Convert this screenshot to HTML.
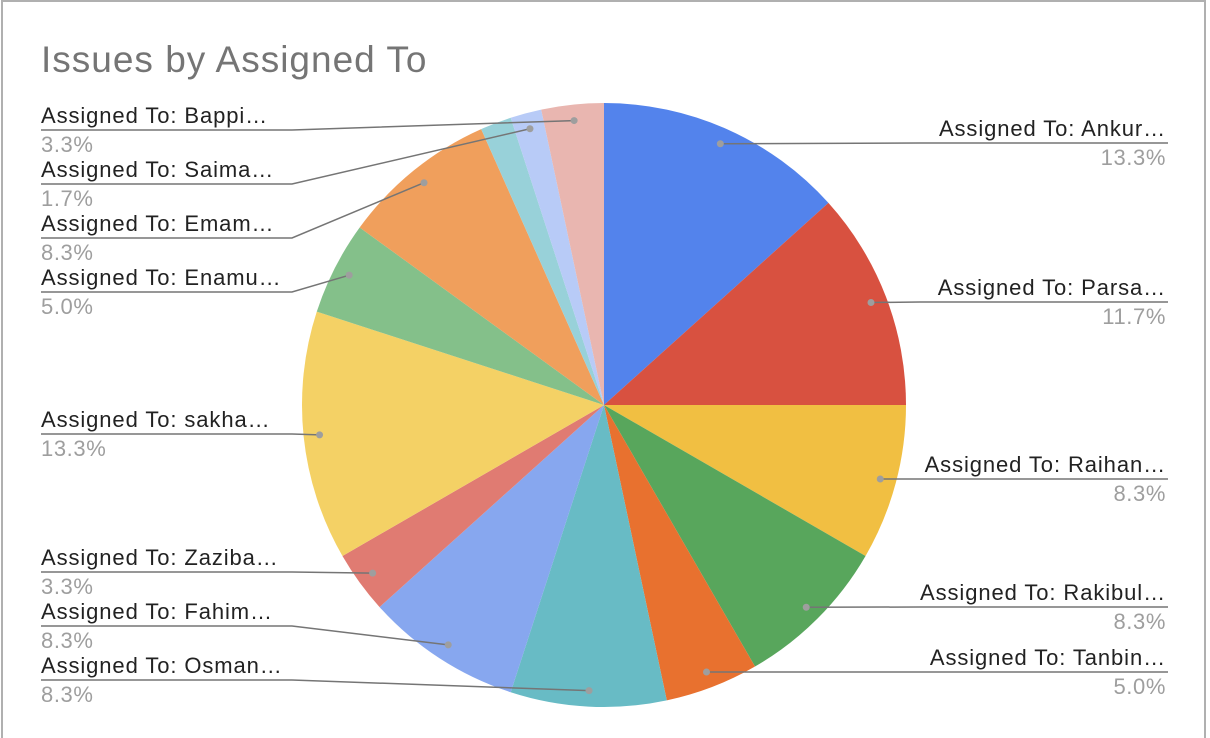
<!DOCTYPE html>
<html><head><meta charset="utf-8"><style>
html,body{margin:0;padding:0;background:#fff;}
svg{display:block;font-family:"Liberation Sans",Arial,sans-serif;}
</style></head><body>
<svg id="chart" width="1210" height="738" viewBox="0 0 1210 738">
<rect x="2" y="1" width="1203" height="745" fill="#fff" stroke="#b0b0b0" stroke-width="2"/>
<text x="41" y="72" font-size="37" letter-spacing="1" fill="#757575">Issues by Assigned To</text>
<g id="slices"></g><g id="labels"></g>
</svg>
<script>
// Data (clockwise from 12 o'clock)
const names = ["Ankur","Parsa","Raihan","Rakibul","Tanbin","Osman","Fahim","Zaziba","sakha","Enamu","Emam","(other)","Saima","Bappi"];
const counts = [8,7,5,5,3,5,5,2,8,3,5,1,1,2];
const colors = ["#5383ec","#d85140","#f1bf42","#58a65c","#e8712f","#68bbc5","#87a7ef","#e07b72","#f4d165","#84c08a","#f09f5c","#98d1d9","#b8cbf7","#e9b6b0"];
const labelSide = ["R","R","R","R","R","L","L","L","L","L","L","","L","L"];
const labelLineY = [143,302,479,607,672,680,626,572,434,292,238,0,184,130];

const cx=604, cy=405, R=302, rDot=286;
const NS="http://www.w3.org/2000/svg";
const total=counts.reduce((a,b)=>a+b,0);
const gS=document.getElementById('slices'), gL=document.getElementById('labels');
function pt(a,r){return [cx+r*Math.sin(a), cy-r*Math.cos(a)];}
let acc=0;
counts.forEach((c,i)=>{
  const a0=acc/total*2*Math.PI; acc+=c; const a1=acc/total*2*Math.PI;
  const p0=pt(a0,R), p1=pt(a1,R);
  const path=document.createElementNS(NS,'path');
  path.setAttribute('d',`M${cx},${cy}L${p0[0]},${p0[1]}A${R},${R} 0 ${a1-a0>Math.PI?1:0} 1 ${p1[0]},${p1[1]}Z`);
  path.setAttribute('fill',colors[i]);
  
  
  gS.appendChild(path);
  const side=labelSide[i]; if(!side) return;
  const d=pt((a0+a1)/2,rDot); const ly=labelLineY[i];
  const pct=(c/total*100).toFixed(1)+'%';
  const line=document.createElementNS(NS,'polyline');
  let pts, tx, anchor;
  if(side==='R'){pts=`${d[0]},${d[1]} ${Math.max(d[0]+30,920)},${ly} 1168,${ly}`;tx=1166;anchor='end';}
  else{pts=`41,${ly} 292,${ly} ${d[0]},${d[1]}`;tx=41;anchor='start';}
  line.setAttribute('points',pts);line.setAttribute('fill','none');line.setAttribute('stroke','#757575');line.setAttribute('stroke-width','1.5');
  
  
  gL.appendChild(line);
  const dot=document.createElementNS(NS,'circle');
  dot.setAttribute('cx',d[0]);dot.setAttribute('cy',d[1]);dot.setAttribute('r','3.5');dot.setAttribute('fill','#9e9e9e');
  
  
  gL.appendChild(dot);
  const t=document.createElementNS(NS,'text');
  t.setAttribute('x',tx);t.setAttribute('y',ly-7);t.setAttribute('font-size','22');t.setAttribute('letter-spacing','0.9');t.setAttribute('fill','#222');t.setAttribute('text-anchor',anchor);
  t.textContent='Assigned To: '+names[i]+'…';
  
  
  gL.appendChild(t);
  const p=document.createElementNS(NS,'text');
  p.setAttribute('x',tx);p.setAttribute('y',ly+22);p.setAttribute('font-size','22');p.setAttribute('letter-spacing','0.6');p.setAttribute('fill','#9e9e9e');p.setAttribute('text-anchor',anchor);
  p.textContent=pct;
  
  
  gL.appendChild(p);
});
</script>
</body></html>
